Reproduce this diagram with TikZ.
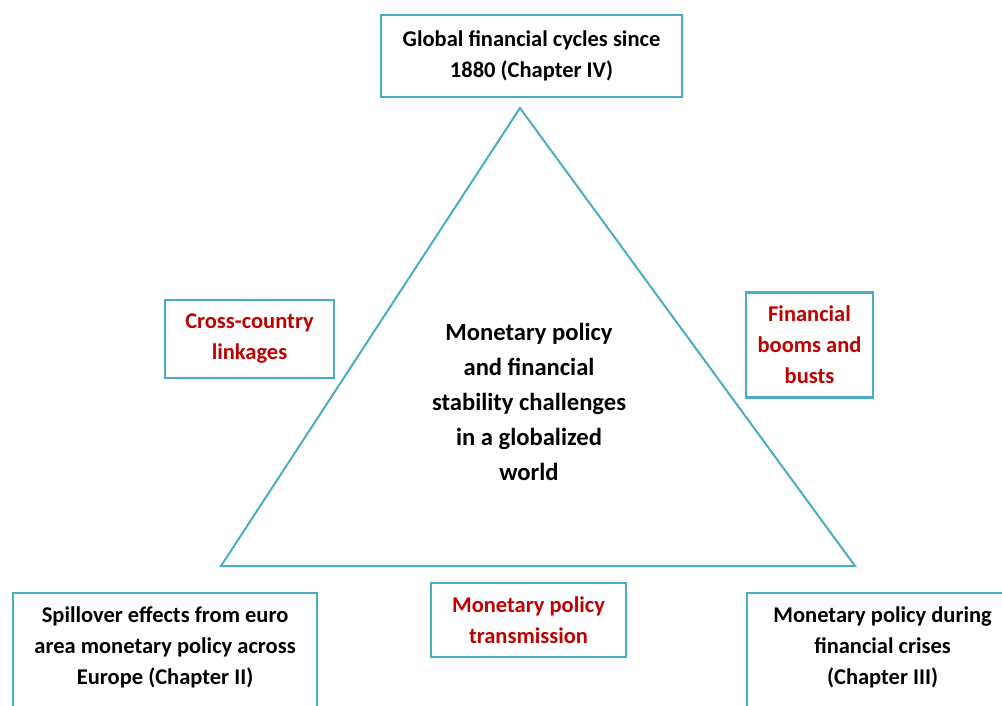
\documentclass[tikz,border=0pt]{standalone}
\usepackage{fontspec}
\setmainfont{Carlito}
\definecolor{boxblue}{HTML}{4BACC6}
\definecolor{themered}{HTML}{C00000}

\begin{document}
\begin{tikzpicture}[x=1pt, y=-1pt,
            every node/.style={font=\fontsize{22.5}{31}\selectfont\bfseries, align=center},
            chapbox/.style={draw=boxblue, line width=2.2pt, inner sep=0pt},
            themebox/.style={chapbox, text=themered},
            openbox/.style={chapbox, anchor=north west, text height=83pt, text depth=140pt, inner ysep=8pt}]
        \clip (0,0) rectangle (1002,706);
        \coordinate (apex) at (520,108);
        \coordinate (baseleft) at (221,566);
        \coordinate (baseright) at (855,566);
        \draw[boxblue, line width=2pt, line join=miter] (apex) -- (baseleft) -- (baseright) -- cycle;
        \node (core) at (529,402) [font=\fontsize{24.6}{35}\selectfont\bfseries]
            {Monetary policy\\ and financial\\ stability challenges\\ in a globalized\\ world};
        \node (cycles) at (531.5,56) [chapbox, minimum width=301pt, minimum height=82pt]
            {Global financial cycles since\\ 1880 (Chapter IV)};
        \node (linkages) at (249.5,339) [themebox, minimum width=169pt, minimum height=78pt]
            {Cross-country\\ linkages};
        \node (booms) at (809.5,345) [themebox, minimum width=127pt, minimum height=105pt]
            {Financial\\ booms and\\ busts};
        \node (transmission) at (528.5,620) [themebox, minimum width=195pt, minimum height=74pt]
            {Monetary policy\\ transmission};
        \node (spillover) at (12,592) [openbox, minimum width=304pt]
            {Spillover effects from euro\\ area monetary policy across\\ Europe (Chapter II)};
        \node (crises) at (746,592) [openbox, minimum width=271pt]
            {Monetary policy during\\ financial crises\\ (Chapter III)};
        \end{tikzpicture}
\end{document}
